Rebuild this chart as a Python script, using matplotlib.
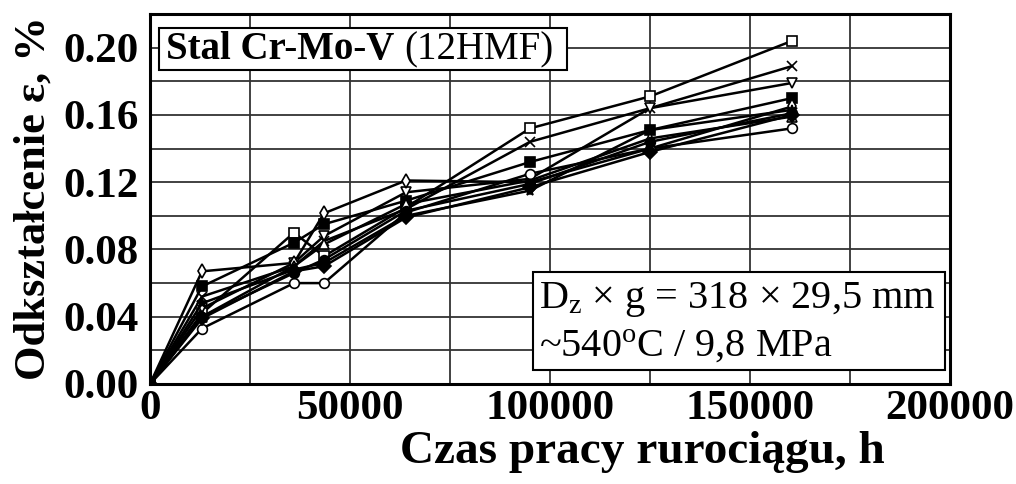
import matplotlib
matplotlib.use("Agg")
import matplotlib.pyplot as plt
from matplotlib.patches import Rectangle
from matplotlib.ticker import MultipleLocator

plt.rcParams['font.family'] = 'Liberation Serif'
plt.rcParams['mathtext.fontset'] = 'custom'
plt.rcParams['mathtext.rm'] = 'Liberation Serif'
plt.rcParams['mathtext.it'] = 'Liberation Serif:italic'

# czas pracy rurociągu [h]
czas = [0, 13000, 36000, 43500, 64000, 95000, 125000, 160500]

# odkształcenie [%] dla poszczególnych punktów pomiarowych
eps_kw = [0, 0.042, 0.090, 0.076, 0.105, 0.152, 0.171, 0.204]
eps_x = [0, 0.052, 0.070, 0.085, 0.104, 0.144, 0.164, 0.189]
eps_trd = [0, 0.045, 0.072, 0.088, 0.114, 0.122, 0.164, 0.179]
eps_kwp = [0, 0.058, 0.084, 0.095, 0.109, 0.132, 0.151, 0.170]
eps_rb = [0, 0.067, 0.072, 0.1015, 0.121, 0.120, 0.140, 0.165]
eps_gw = [0, 0.048, 0.068, 0.072, 0.100, 0.115, 0.151, 0.163]
eps_tru = [0, 0.040, 0.070, 0.083, 0.107, 0.121, 0.146, 0.159]
eps_ok = [0, 0.033, 0.060, 0.060, 0.102, 0.125, 0.140, 0.152]
eps_okp = [0, 0.040, 0.066, 0.074, 0.103, 0.119, 0.144, 0.161]
eps_rbp = [0, 0.039, 0.067, 0.070, 0.099, 0.117, 0.138, 0.160]

serie = [
    (eps_kw, 's', 'white'),
    (eps_x, 'x', 'black'),
    (eps_trd, 'v', 'white'),
    (eps_kwp, 's', 'black'),
    (eps_rb, 'd', 'white'),
    (eps_gw, '*', 'black'),
    (eps_tru, '^', 'white'),
    (eps_ok, 'o', 'white'),
    (eps_okp, 'o', 'black'),
    (eps_rbp, 'D', 'black'),
]

fig = plt.figure(figsize=(10.16, 4.84), dpi=100)
ax = fig.add_axes([150 / 1016, 100 / 484, 800 / 1016, 370 / 484])

for eps, m, fc in serie:
    ax.plot(czas, eps, color='black', lw=1.8, marker=m, ms=7,
            mfc=fc, mec='black', mew=1.2)

ax.set_xlim(0, 200000)
ax.set_ylim(0, 0.22)
ax.xaxis.set_minor_locator(MultipleLocator(25000))
ax.yaxis.set_minor_locator(MultipleLocator(0.02))
ax.grid(which='both', color='#333333', lw=1.3)
ax.set_axisbelow(True)
ax.tick_params(which='both', length=0, labelsize=31)
ax.tick_params(axis='x', pad=4)
ax.tick_params(axis='y', pad=8)
ax.set_yticks([0, 0.04, 0.08, 0.12, 0.16, 0.20])
ax.set_yticklabels(['0.00', '0.04', '0.08', '0.12', '0.16', '0.20'],
                   fontweight='bold')
ax.set_xticks([0, 50000, 100000, 150000, 200000])
ax.set_xticklabels(['0', '50000', '100000', '150000', '200000'],
                   fontweight='bold')
for s in ax.spines.values():
    s.set_linewidth(2.2)

fig.text(642 / 1016, 1 - 452 / 484, 'Czas pracy rurociągu, h', ha='center',
         va='center', fontsize=34, fontweight='bold')
fig.text(34 / 1016, 1 - 198 / 484, 'Odkształcenie ε, %', ha='center',
         va='center', rotation=90, fontsize=32, fontweight='bold')

# ramka z gatunkiem stali
ax.add_patch(Rectangle((0.011, 0.849), 0.51, 0.113, transform=ax.transAxes,
                       fc='white', ec='black', lw=1.5, zorder=5))
t1 = ax.text(0.020, 0.903, 'Stal Cr-Mo-V', transform=ax.transAxes,
             fontsize=28, fontweight='bold', va='center', zorder=6)
fig.canvas.draw()
bb = t1.get_window_extent().transformed(ax.transAxes.inverted())
ax.text(bb.x1 + 0.013, 0.903, '(12HMF)', transform=ax.transAxes,
        fontsize=28, va='center', zorder=6)

# ramka z parametrami rurociągu
ax.add_patch(Rectangle((0.479, 0.038), 0.515, 0.265, transform=ax.transAxes,
                       fc='white', ec='black', lw=1.5, zorder=5))
ax.text(0.486, 0.228, r'D$_\mathregular{z}$ × g = 318 × 29,5 mm',
        transform=ax.transAxes, fontsize=29, va='center', zorder=6)
ax.text(0.486, 0.100, r'~540$^\mathregular{o}$C / 9,8 MPa',
        transform=ax.transAxes, fontsize=29, va='center', zorder=6)

fig.savefig('out.png', dpi=100)
